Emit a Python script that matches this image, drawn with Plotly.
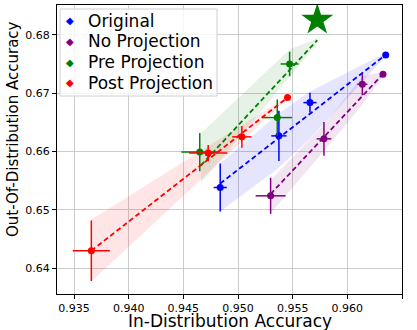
import plotly.graph_objects as go

# ---------------- data ----------------
series_names = ["Original", "No Projection", "Pre Projection", "Post Projection"]
series_colors = ["#0000ff", "#800080", "#008000", "#ff0000"]
band_colors = ["rgba(0,0,255,0.1)", "rgba(128,0,128,0.1)", "rgba(0,128,0,0.1)", "rgba(255,0,0,0.1)"]

# Original
orig_x = [0.94837, 0.95374, 0.95658]
orig_y = [0.65382, 0.66268, 0.66839]
orig_xerr = [0.0006, 0.0007, 0.0006]
orig_yerr = [0.0041, 0.0043, 0.0017]
orig_final_x = [0.96351]
orig_final_y = [0.67657]
orig_fit_x = [0.94837, 0.96351]
orig_fit_y = [0.6545, 0.6766]
orig_band_x = [0.94837, 0.95374, 0.95658, 0.96351]
orig_band_lo = [0.6497, 0.6572, 0.6622, 0.6763]
orig_band_hi = [0.6580, 0.6665, 0.6703, 0.6769]

# No Projection
noproj_x = [0.95298, 0.95786, 0.96137]
noproj_y = [0.65239, 0.66217, 0.67154]
noproj_xerr = [0.00137, 0.00067, 0.00046]
noproj_yerr = [0.0031, 0.0029, 0.0019]
noproj_final_x = [0.96326]
noproj_final_y = [0.67326]
noproj_fit_x = [0.95298, 0.96326]
noproj_fit_y = [0.6527, 0.6733]
noproj_band_x = [0.95298, 0.95786, 0.96137, 0.96326]
noproj_band_lo = [0.6494, 0.6601, 0.6680, 0.6729]
noproj_band_hi = [0.6551, 0.6646, 0.6729, 0.6737]

# Pre Projection
pre_x = [0.94650, 0.95359, 0.95472]
pre_y = [0.65989, 0.66582, 0.67502]
pre_xerr = [0.00168, 0.00134, 0.00082]
pre_yerr = [0.0033, 0.0031, 0.0021]
pre_star_x = [0.95725]
pre_star_y = [0.68257]
pre_fit_x = [0.9466, 0.95725]
pre_fit_y = [0.6576, 0.6791]
pre_band_x = [0.9466, 0.95472, 0.95725]
pre_band_lo = [0.6546, 0.6728, 0.6786]
pre_band_hi = [0.6631, 0.6775, 0.6794]

# Post Projection
post_x = [0.93658, 0.94727, 0.95035]
post_y = [0.64297, 0.65972, 0.66251]
post_xerr = [0.0017, 0.00175, 0.00088]
post_yerr = [0.0052, 0.0014, 0.00185]
post_final_x = [0.95453]
post_final_y = [0.66925]
post_fit_x = [0.93658, 0.95453]
post_fit_y = [0.64297, 0.66925]
post_band_x = [0.93658, 0.95453]
post_band_lo = [0.6377, 0.6690]
post_band_hi = [0.6483, 0.6695]

x_ticks = [0.935, 0.940, 0.945, 0.950, 0.955, 0.960, 0.965]
y_ticks = [0.64, 0.65, 0.66, 0.67, 0.68]

series = [
    dict(x=orig_x, y=orig_y, xe=orig_xerr, ye=orig_yerr, fx=orig_final_x, fy=orig_final_y,
         lx=orig_fit_x, ly=orig_fit_y, bx=orig_band_x, blo=orig_band_lo, bhi=orig_band_hi),
    dict(x=noproj_x, y=noproj_y, xe=noproj_xerr, ye=noproj_yerr, fx=noproj_final_x, fy=noproj_final_y,
         lx=noproj_fit_x, ly=noproj_fit_y, bx=noproj_band_x, blo=noproj_band_lo, bhi=noproj_band_hi),
    dict(x=pre_x, y=pre_y, xe=pre_xerr, ye=pre_yerr, fx=None, fy=None,
         lx=pre_fit_x, ly=pre_fit_y, bx=pre_band_x, blo=pre_band_lo, bhi=pre_band_hi),
    dict(x=post_x, y=post_y, xe=post_xerr, ye=post_yerr, fx=post_final_x, fy=post_final_y,
         lx=post_fit_x, ly=post_fit_y, bx=post_band_x, blo=post_band_lo, bhi=post_band_hi),
]

FONT = "DejaVu Sans"
W, H = 417, 330
ML, MR, MT, MB = 57, 15, 5, 36
PW, PH = W - ML - MR, H - MT - MB


def px_to_paper_x(px):
    return (px - ML) / PW


def px_to_paper_y(py):
    return (H - MB - py) / PH


fig = go.Figure()

# bands
for s, bc in zip(series, band_colors):
    fig.add_trace(go.Scatter(
        x=s["bx"] + s["bx"][::-1], y=s["bhi"] + s["blo"][::-1],
        fill="toself", fillcolor=bc, line=dict(width=0), mode="lines",
        hoverinfo="skip", showlegend=False))

# fit lines
for s, c in zip(series, series_colors):
    fig.add_trace(go.Scatter(
        x=s["lx"], y=s["ly"], mode="lines",
        line=dict(color=c, width=1.8, dash="5px,3px"), showlegend=False))

# points with error bars
for s, c in zip(series, series_colors):
    fig.add_trace(go.Scatter(
        x=s["x"], y=s["y"], mode="markers",
        marker=dict(color=c, size=7),
        error_x=dict(type="data", array=s["xe"], color=c, thickness=1.5, width=0),
        error_y=dict(type="data", array=s["ye"], color=c, thickness=1.5, width=0),
        showlegend=False))
    if s["fx"] is not None:
        fig.add_trace(go.Scatter(
            x=s["fx"], y=s["fy"], mode="markers",
            marker=dict(color=c, size=7), showlegend=False))

# star
fig.add_trace(go.Scatter(
    x=pre_star_x, y=pre_star_y, mode="markers",
    marker=dict(symbol="star", color=series_colors[2], size=24, line=dict(width=0)),
    showlegend=False))

# manual legend (box + symbols + labels)
annotations = []
shapes = [dict(type="rect", xref="paper", yref="paper", layer="above",
               x0=px_to_paper_x(60), x1=px_to_paper_x(217),
               y0=px_to_paper_y(96), y1=px_to_paper_y(9),
               fillcolor="rgba(255,255,255,0.8)", line=dict(color="#d0d0d0", width=1))]
for i, (n, c) in enumerate(zip(series_names, series_colors)):
    yc = px_to_paper_y(20.5 + 20.8 * i)
    annotations.append(dict(text="\u25c6", xref="paper", yref="paper",
                            x=px_to_paper_x(70), y=yc, xanchor="center", yanchor="middle",
                            showarrow=False, font=dict(size=10, family=FONT, color=c)))
    annotations.append(dict(text=n, xref="paper", yref="paper",
                            x=px_to_paper_x(86), y=yc, xanchor="left", yanchor="middle",
                            showarrow=False, font=dict(size=17, family=FONT, color="black")))

annotations += [
    dict(text="In-Distribution Accuracy", xref="paper", yref="paper",
         x=0.5, y=px_to_paper_y(320.5), xanchor="center", yanchor="middle", showarrow=False,
         borderpad=0, font=dict(size=17, family=FONT)),
    dict(text="Out-Of-Distribution Accuracy", xref="paper", yref="paper",
         x=px_to_paper_x(13), y=px_to_paper_y(129), xanchor="center", yanchor="middle",
         borderpad=0, showarrow=False, textangle=-90, font=dict(size=15, family=FONT)),
]

fig.update_layout(
    width=W, height=H,
    margin=dict(l=ML, r=MR, t=MT, b=MB, autoexpand=False),
    paper_bgcolor="white", plot_bgcolor="white",
    font=dict(family=FONT, color="black"),
    showlegend=False,
    shapes=shapes,
    annotations=annotations,
)
fig.update_xaxes(range=[0.93344, 0.965], tickvals=x_ticks, tickformat=".3f",
                 automargin=False,
                 showgrid=True, gridcolor="#cccccc", gridwidth=1, zeroline=False,
                 showline=True, mirror=True, linecolor="black", linewidth=1,
                 ticks="outside", ticklen=3.5, tickcolor="black",
                 tickfont=dict(size=11, family=FONT))
fig.update_yaxes(range=[0.63554, 0.68514], tickvals=y_ticks, tickformat=".2f",
                 automargin=False,
                 showgrid=True, gridcolor="#cccccc", gridwidth=1, zeroline=False,
                 showline=True, mirror=True, linecolor="black", linewidth=1,
                 ticks="outside", ticklen=4, tickcolor="black",
                 tickfont=dict(size=11, family=FONT))

fig.write_html("out.html", config={"displayModeBar": False},
               post_script="document.body.style.margin='0';")
